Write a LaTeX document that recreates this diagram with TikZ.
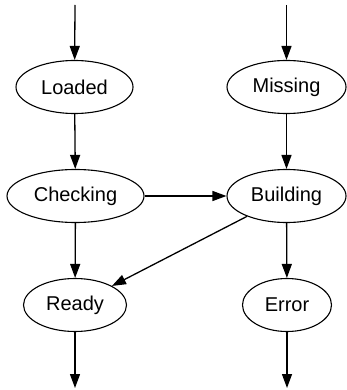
\documentclass[tikz,border=0pt]{standalone}
\usepackage{fontspec}
\setmainfont{Liberation Sans}
\usetikzlibrary{shapes.geometric,arrows.meta}
\begin{document}
\begin{tikzpicture}[x=1pt,y=-1pt,
  state/.style={draw,ellipse,line width=1.1pt,inner sep=0pt,minimum height=53pt,font=\fontsize{20}{24}\selectfont},
  edge/.style={line width=1.3pt,-{Triangle[length=14pt,width=10pt]}}]
\useasboundingbox (0,0) rectangle (346,390);
\node[state,minimum width=117pt] (loaded) at (74.5,87) {Loaded};
\node[state,minimum width=119pt] (missing) at (286.5,87) {Missing};
\node[state,minimum width=137pt] (checking) at (75.5,196) {Checking};
\node[state,minimum width=119pt] (building) at (286.5,196) {Building};
\node[state,minimum width=103pt] (ready) at (75,305) {Ready};
\node[state,minimum width=89pt] (error) at (287,305) {Error};
\coordinate (inL) at (75,5);
\coordinate (inM) at (286.5,5);
\coordinate (outR) at (75,388);
\coordinate (outE) at (287,388);
\draw[edge] (inL) -- (loaded);
\draw[edge] (inM) -- (missing);
\draw[edge] (loaded) -- (checking);
\draw[edge] (missing) -- (building);
\draw[edge] (checking) -- (building);
\draw[edge] (checking) -- (ready);
\draw[edge] (building) -- (ready);
\draw[edge] (building) -- (error);
\draw[edge] (ready) -- (outR);
\draw[edge] (error) -- (outE);
\end{tikzpicture}
\end{document}
